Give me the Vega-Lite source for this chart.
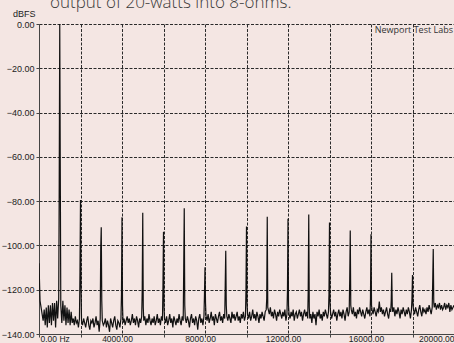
{
  "$schema": "https://vega.github.io/schema/vega-lite/v6.json",
  "width": 415,
  "height": 310,
  "autosize": {"type": "none"},
  "padding": {"left": 39, "top": 24, "right": 0, "bottom": 9},
  "background": "#f4e6e3",
  "title": {
    "text": "output of 20-watts into 8-ohms.",
    "anchor": "start",
    "frame": "group",
    "orient": "top",
    "baseline": "alphabetic",
    "offset": 0,
    "dy": 16,
    "dx": 11,
    "font": "Open Sans",
    "fontSize": 17,
    "fontWeight": 300,
    "color": "#3a3a3a"
  },
  "config": {
    "view": {"fill": "#f4e6e3", "stroke": null},
    "axis": {
      "labelFont": "Liberation Sans",
      "labelFontSize": 9,
      "labelColor": "#222222",
      "domainColor": "#444444",
      "tickColor": "#444444",
      "tickSize": 3,
      "gridColor": "#2a2a2a",
      "gridDash": [3, 1.5],
      "gridOpacity": 1,
      "gridWidth": 1
    }
  },
  "layer": [
    {
      "data": {
        "values": [
          {"f":0,"db":-108},{"f":50,"db":-125},{"f":100,"db":-128},{"f":150,"db":-131},{"f":200,"db":-134},{"f":250,"db":-129},{"f":300,"db":-136},{"f":350,"db":-128},{"f":400,"db":-137},{"f":450,"db":-127},{"f":500,"db":-135},{"f":550,"db":-127},{"f":600,"db":-136},{"f":650,"db":-126},{"f":700,"db":-134},{"f":750,"db":-126},{"f":800,"db":-137},{"f":850,"db":-125},{"f":900,"db":-133},{"f":950,"db":-124},{"f":975,"db":-72},{"f":1000,"db":0},{"f":1025,"db":-65},
          {"f":1050,"db":-127},{"f":1100,"db":-135},{"f":1150,"db":-125},{"f":1200,"db":-134},{"f":1250,"db":-127},{"f":1300,"db":-136},{"f":1350,"db":-128},{"f":1400,"db":-135},{"f":1450,"db":-129},{"f":1500,"db":-136},{"f":1550,"db":-130},{"f":1600,"db":-135},{"f":1650,"db":-133},{"f":1700,"db":-136},{"f":1750,"db":-132},{"f":1800,"db":-135},{"f":1850,"db":-134},{"f":1900,"db":-137},{"f":1950,"db":-133},{"f":1975,"db":-112},{"f":2000,"db":-79.5},{"f":2025,"db":-118},
          {"f":2050,"db":-134},{"f":2100,"db":-136},{"f":2150,"db":-133},{"f":2200,"db":-135},{"f":2250,"db":-137},{"f":2300,"db":-134},{"f":2350,"db":-132},{"f":2400,"db":-136},{"f":2450,"db":-138},{"f":2500,"db":-134},{"f":2550,"db":-135},{"f":2600,"db":-133},{"f":2650,"db":-137},{"f":2700,"db":-135},{"f":2750,"db":-132},{"f":2800,"db":-136},{"f":2850,"db":-134},{"f":2900,"db":-139},{"f":2950,"db":-133},{"f":2975,"db":-101},{"f":3000,"db":-91.8},{"f":3025,"db":-125},
          {"f":3050,"db":-134},{"f":3100,"db":-136},{"f":3150,"db":-135},{"f":3200,"db":-133},{"f":3250,"db":-137},{"f":3300,"db":-134},{"f":3350,"db":-136},{"f":3400,"db":-139},{"f":3450,"db":-133},{"f":3500,"db":-135},{"f":3550,"db":-137},{"f":3600,"db":-134},{"f":3650,"db":-132},{"f":3700,"db":-136},{"f":3750,"db":-138},{"f":3800,"db":-134},{"f":3850,"db":-135},{"f":3900,"db":-137},{"f":3950,"db":-133},{"f":3975,"db":-122},{"f":4000,"db":-87.3},{"f":4025,"db":-127},
          {"f":4050,"db":-135},{"f":4100,"db":-133},{"f":4150,"db":-136},{"f":4200,"db":-134},{"f":4250,"db":-132},{"f":4300,"db":-135},{"f":4350,"db":-133},{"f":4400,"db":-136},{"f":4450,"db":-134},{"f":4500,"db":-131},{"f":4550,"db":-135},{"f":4600,"db":-133},{"f":4650,"db":-136},{"f":4700,"db":-132},{"f":4750,"db":-134},{"f":4800,"db":-137},{"f":4850,"db":-133},{"f":4900,"db":-135},{"f":4950,"db":-132},{"f":4975,"db":-120},{"f":5000,"db":-85.2},{"f":5025,"db":-128},
          {"f":5050,"db":-134},{"f":5100,"db":-132},{"f":5150,"db":-136},{"f":5200,"db":-133},{"f":5250,"db":-135},{"f":5300,"db":-131},{"f":5350,"db":-134},{"f":5400,"db":-136},{"f":5450,"db":-133},{"f":5500,"db":-135},{"f":5550,"db":-132},{"f":5600,"db":-136},{"f":5650,"db":-134},{"f":5700,"db":-131},{"f":5750,"db":-135},{"f":5800,"db":-133},{"f":5850,"db":-136},{"f":5900,"db":-132},{"f":5950,"db":-134},{"f":5975,"db":-118},{"f":6000,"db":-93.8},{"f":6025,"db":-128},
          {"f":6050,"db":-133},{"f":6100,"db":-135},{"f":6150,"db":-132},{"f":6200,"db":-136},{"f":6250,"db":-134},{"f":6300,"db":-131},{"f":6350,"db":-135},{"f":6400,"db":-133},{"f":6450,"db":-137},{"f":6500,"db":-132},{"f":6550,"db":-134},{"f":6600,"db":-136},{"f":6650,"db":-133},{"f":6700,"db":-135},{"f":6750,"db":-131},{"f":6800,"db":-134},{"f":6850,"db":-136},{"f":6900,"db":-132},{"f":6950,"db":-134},{"f":6975,"db":-110},{"f":7000,"db":-83.2},{"f":7025,"db":-127},
          {"f":7050,"db":-133},{"f":7100,"db":-135},{"f":7150,"db":-132},{"f":7200,"db":-134},{"f":7250,"db":-137},{"f":7300,"db":-133},{"f":7350,"db":-131},{"f":7400,"db":-135},{"f":7450,"db":-133},{"f":7500,"db":-136},{"f":7550,"db":-132},{"f":7600,"db":-134},{"f":7650,"db":-138},{"f":7700,"db":-133},{"f":7750,"db":-131},{"f":7800,"db":-135},{"f":7850,"db":-133},{"f":7900,"db":-136},{"f":7950,"db":-132},{"f":7975,"db":-122},{"f":8000,"db":-109.9},{"f":8025,"db":-126},
          {"f":8050,"db":-132},{"f":8100,"db":-134},{"f":8150,"db":-131},{"f":8200,"db":-135},{"f":8250,"db":-133},{"f":8300,"db":-130},{"f":8350,"db":-134},{"f":8400,"db":-132},{"f":8450,"db":-136},{"f":8500,"db":-131},{"f":8550,"db":-133},{"f":8600,"db":-135},{"f":8650,"db":-132},{"f":8700,"db":-130},{"f":8750,"db":-134},{"f":8800,"db":-132},{"f":8850,"db":-135},{"f":8900,"db":-131},{"f":8950,"db":-133},{"f":8975,"db":-118},{"f":9000,"db":-102.4},{"f":9025,"db":-127},
          {"f":9050,"db":-132},{"f":9100,"db":-134},{"f":9150,"db":-131},{"f":9200,"db":-133},{"f":9250,"db":-135},{"f":9300,"db":-130},{"f":9350,"db":-133},{"f":9400,"db":-131},{"f":9450,"db":-134},{"f":9500,"db":-132},{"f":9550,"db":-130},{"f":9600,"db":-134},{"f":9650,"db":-132},{"f":9700,"db":-135},{"f":9750,"db":-131},{"f":9800,"db":-133},{"f":9850,"db":-130},{"f":9900,"db":-134},{"f":9950,"db":-132},{"f":9975,"db":-120},{"f":10000,"db":-91.5},{"f":10025,"db":-126},
          {"f":10050,"db":-131},{"f":10100,"db":-133},{"f":10150,"db":-130},{"f":10200,"db":-134},{"f":10250,"db":-132},{"f":10300,"db":-129},{"f":10350,"db":-133},{"f":10400,"db":-131},{"f":10450,"db":-134},{"f":10500,"db":-130},{"f":10550,"db":-132},{"f":10600,"db":-135},{"f":10650,"db":-131},{"f":10700,"db":-133},{"f":10750,"db":-130},{"f":10800,"db":-132},{"f":10850,"db":-134},{"f":10900,"db":-130},{"f":10950,"db":-129},{"f":10975,"db":-124},{"f":11000,"db":-87},{"f":11025,"db":-128},
          {"f":11050,"db":-129},{"f":11100,"db":-131},{"f":11150,"db":-128},{"f":11200,"db":-132},{"f":11250,"db":-130},{"f":11300,"db":-133},{"f":11350,"db":-129},{"f":11400,"db":-131},{"f":11450,"db":-134},{"f":11500,"db":-130},{"f":11550,"db":-132},{"f":11600,"db":-129},{"f":11650,"db":-131},{"f":11700,"db":-133},{"f":11750,"db":-130},{"f":11800,"db":-132},{"f":11850,"db":-129},{"f":11900,"db":-134},{"f":11950,"db":-131},{"f":11975,"db":-120},{"f":12000,"db":-87.9},{"f":12025,"db":-127},
          {"f":12050,"db":-131},{"f":12100,"db":-133},{"f":12150,"db":-130},{"f":12200,"db":-132},{"f":12250,"db":-129},{"f":12300,"db":-134},{"f":12350,"db":-131},{"f":12400,"db":-130},{"f":12450,"db":-133},{"f":12500,"db":-131},{"f":12550,"db":-129},{"f":12600,"db":-132},{"f":12650,"db":-130},{"f":12700,"db":-134},{"f":12750,"db":-131},{"f":12800,"db":-129},{"f":12850,"db":-132},{"f":12900,"db":-130},{"f":12950,"db":-133},{"f":12975,"db":-120},{"f":13000,"db":-86},{"f":13025,"db":-128},
          {"f":13050,"db":-133},{"f":13100,"db":-131},{"f":13150,"db":-135},{"f":13200,"db":-130},{"f":13250,"db":-133},{"f":13300,"db":-131},{"f":13350,"db":-136},{"f":13400,"db":-130},{"f":13450,"db":-132},{"f":13500,"db":-129},{"f":13550,"db":-133},{"f":13600,"db":-131},{"f":13650,"db":-134},{"f":13700,"db":-130},{"f":13750,"db":-132},{"f":13800,"db":-129},{"f":13850,"db":-131},{"f":13900,"db":-133},{"f":13950,"db":-130},{"f":13975,"db":-122},{"f":14000,"db":-89.7},{"f":14025,"db":-126},
          {"f":14050,"db":-130},{"f":14100,"db":-133},{"f":14150,"db":-131},{"f":14200,"db":-129},{"f":14250,"db":-132},{"f":14300,"db":-130},{"f":14350,"db":-134},{"f":14400,"db":-131},{"f":14450,"db":-129},{"f":14500,"db":-132},{"f":14550,"db":-130},{"f":14600,"db":-133},{"f":14650,"db":-129},{"f":14700,"db":-131},{"f":14750,"db":-134},{"f":14800,"db":-130},{"f":14850,"db":-128},{"f":14900,"db":-132},{"f":14950,"db":-130},{"f":14975,"db":-115},{"f":15000,"db":-93.3},{"f":15025,"db":-127},
          {"f":15050,"db":-129},{"f":15100,"db":-131},{"f":15150,"db":-128},{"f":15200,"db":-132},{"f":15250,"db":-130},{"f":15300,"db":-133},{"f":15350,"db":-129},{"f":15400,"db":-131},{"f":15450,"db":-128},{"f":15500,"db":-130},{"f":15550,"db":-132},{"f":15600,"db":-129},{"f":15650,"db":-131},{"f":15700,"db":-133},{"f":15750,"db":-130},{"f":15800,"db":-128},{"f":15850,"db":-131},{"f":15900,"db":-129},{"f":15950,"db":-132},{"f":15975,"db":-124},{"f":16000,"db":-95},{"f":16025,"db":-127},
          {"f":16050,"db":-129},{"f":16100,"db":-131},{"f":16150,"db":-128},{"f":16200,"db":-130},{"f":16250,"db":-132},{"f":16300,"db":-129},{"f":16350,"db":-130},{"f":16400,"db":-125.4},{"f":16450,"db":-130},{"f":16500,"db":-128},{"f":16550,"db":-131},{"f":16600,"db":-129},{"f":16650,"db":-132},{"f":16700,"db":-130},{"f":16750,"db":-128},{"f":16800,"db":-131},{"f":16850,"db":-133},{"f":16900,"db":-129},{"f":16950,"db":-130},{"f":16975,"db":-125},{"f":17000,"db":-112.3},{"f":17025,"db":-128},
          {"f":17050,"db":-130},{"f":17100,"db":-128},{"f":17150,"db":-132},{"f":17200,"db":-129},{"f":17250,"db":-131},{"f":17300,"db":-128},{"f":17350,"db":-130},{"f":17400,"db":-133},{"f":17450,"db":-129},{"f":17500,"db":-131},{"f":17550,"db":-128},{"f":17600,"db":-130},{"f":17650,"db":-132},{"f":17700,"db":-129},{"f":17750,"db":-131},{"f":17800,"db":-128},{"f":17850,"db":-130},{"f":17900,"db":-133},{"f":17950,"db":-129},{"f":17975,"db":-124},{"f":18000,"db":-113.4},{"f":18025,"db":-127},
          {"f":18050,"db":-129},{"f":18100,"db":-131},{"f":18150,"db":-128},{"f":18200,"db":-130},{"f":18250,"db":-132},{"f":18300,"db":-129},{"f":18350,"db":-127},{"f":18400,"db":-130},{"f":18450,"db":-132},{"f":18500,"db":-128},{"f":18550,"db":-130},{"f":18600,"db":-129},{"f":18650,"db":-131},{"f":18700,"db":-128},{"f":18750,"db":-130},{"f":18800,"db":-127},{"f":18850,"db":-129},{"f":18900,"db":-131},{"f":18950,"db":-128},{"f":18975,"db":-116},{"f":19000,"db":-101.6},{"f":19025,"db":-126},
          {"f":19050,"db":-128},{"f":19100,"db":-126},{"f":19150,"db":-129},{"f":19200,"db":-127},{"f":19250,"db":-128},{"f":19300,"db":-126},{"f":19350,"db":-129},{"f":19400,"db":-127},{"f":19450,"db":-129},{"f":19500,"db":-128},{"f":19550,"db":-126},{"f":19600,"db":-129},{"f":19650,"db":-127},{"f":19700,"db":-128},{"f":19750,"db":-126},{"f":19800,"db":-130},{"f":19850,"db":-127},{"f":19900,"db":-129},{"f":19950,"db":-128},{"f":20000,"db":-127}
        ]
      },
      "mark": {"type": "line", "color": "#111111", "strokeWidth": 1.2, "clip": true},
      "encoding": {
        "x": {
          "field": "f",
          "type": "quantitative",
          "scale": {"domain": [0, 20000], "nice": false, "zero": false},
          "axis": {
            "title": null,
            "values": [0, 2000, 4000, 6000, 8000, 10000, 12000, 14000, 16000, 18000, 20000],
            "labelExpr": "datum.value == 0 ? '0.00 Hz' : (datum.value % 4000 == 0 ? format(datum.value, '.2f') : '')",
            "labelAlign": {"condition": [{"test": "datum.value == 0", "value": "left"}, {"test": "datum.value == 20000", "value": "right"}], "value": "center"},
            "labelOffset": {"condition": [{"test": "datum.value == 0", "value": 1}, {"test": "datum.value == 20000", "value": 0}], "value": -5},
            "labelBaseline": "top",
            "labelPadding": -3,
            "labelFontSize": 8.5,
            "labelFlush": false,
            "labelOverlap": false,
            "labelBound": false,
            "grid": true
          }
        },
        "y": {
          "field": "db",
          "type": "quantitative",
          "scale": {"domain": [-140, 0], "nice": false, "zero": false},
          "axis": {
            "title": "dBFS",
            "titleAngle": 0,
            "titleAlign": "right",
            "titleBaseline": "alphabetic",
            "titleX": -4,
            "titleY": -8,
            "titleFont": "Liberation Sans",
            "titleFontSize": 9,
            "titleFontWeight": "normal",
            "titleColor": "#222222",
            "values": [-140, -120, -100, -80, -60, -40, -20, 0],
            "format": ".2f",
            "labelPadding": 2,
            "labelOverlap": false,
            "labelBound": false,
            "labelFlush": false,
            "grid": true
          }
        }
      }
    },
    {
      "data": {"values": [{"label": "Newport Test Labs"}]},
      "mark": {"type": "text", "align": "right", "baseline": "top", "dy": 2, "dx": -1, "font": "Open Sans", "fontSize": 9, "color": "#333333"},
      "encoding": {
        "x": {"datum": 20000},
        "y": {"datum": 0},
        "text": {"field": "label"}
      }
    }
  ]
}
